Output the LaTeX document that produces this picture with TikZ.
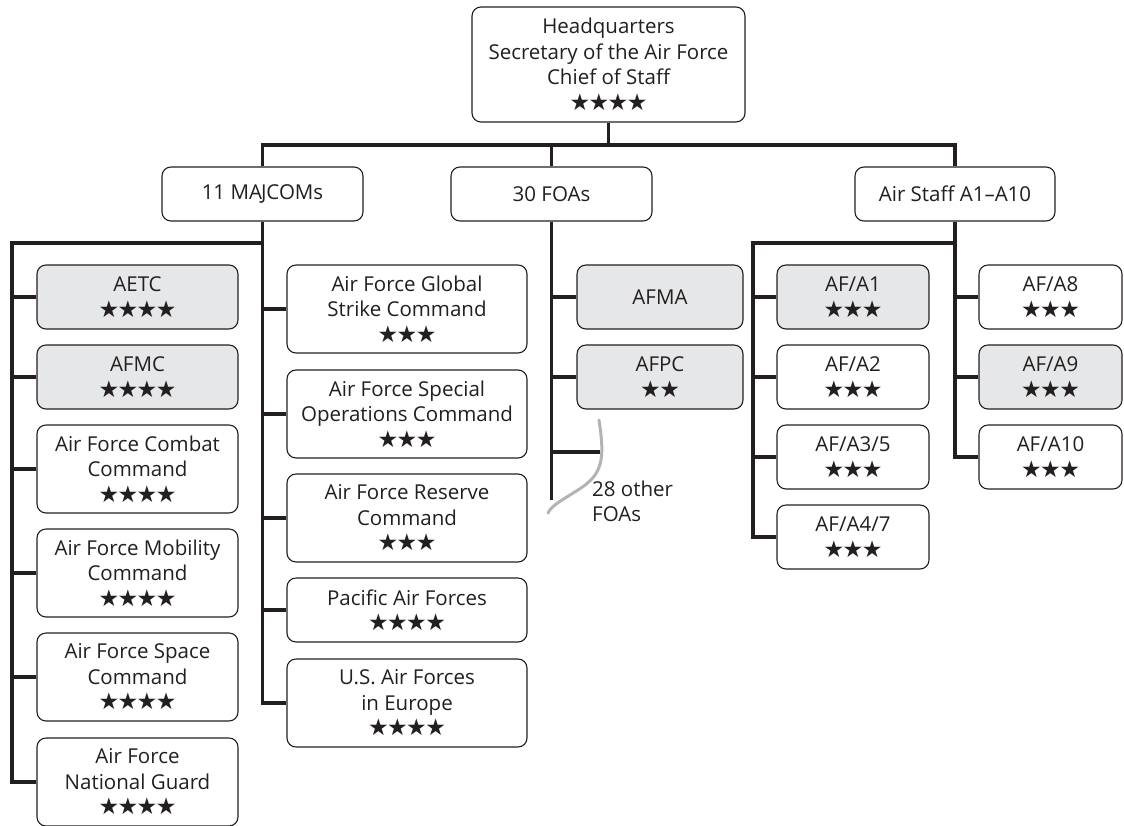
\documentclass[tikz,border=0pt]{standalone}
\usepackage{fontspec}
\setmainfont{Open Sans}
\newfontfamily\starfont{DejaVu Sans}
\newcommand{\st}{★}
\newcommand{\sII}{{\fontsize{23}{25.5}\starfont \st\kern-1.5pt\st}}
\newcommand{\sIII}{{\fontsize{23}{25.5}\starfont \st\kern-1.5pt\st\kern-1.5pt\st}}
\newcommand{\sIV}{{\fontsize{23}{25.5}\starfont \st\kern-1.5pt\st\kern-1.5pt\st\kern-1.5pt\st}}
\definecolor{linec}{HTML}{231F20}
\definecolor{boxgray}{HTML}{E6E7E8}
\definecolor{curvegray}{HTML}{B3B3B3}
\tikzset{
  box/.style={draw=linec, line width=1.1pt, rounded corners=9pt, fill=white, align=center,
    inner sep=0pt, font=\fontsize{20.5}{25.5}\selectfont, text=linec},
  gbox/.style={box, fill=boxgray},
  conn/.style={line width=3.5pt, draw=linec, line join=miter},
  graycurve/.style={line width=3pt, draw=curvegray, line cap=round},
  note/.style={align=left, inner sep=0pt, font=\fontsize{20.5}{25}\selectfont, text=linec}
}
\begin{document}
\begin{tikzpicture}[x=1pt, y=-1pt]
\useasboundingbox (0,0) rectangle (1124,825);
% top level
\node[box, minimum width=273pt, minimum height=115pt] (hq) at (608.5,64.5)
  {Headquarters\\Secretary of the Air Force\\Chief of Staff\\\sIV};
\node[box, minimum width=201pt, minimum height=54pt] (maj) at (262.5,194) {11 MA\kern-1pt JCOMs};
\node[box, minimum width=201pt, minimum height=54pt] (foa) at (551.5,194) {30 FOAs};
\node[box, minimum width=200pt, minimum height=54pt] (air) at (955,194) {Air Staff A1–A10};
% MAJCOM left column
\node[gbox, minimum width=201pt, minimum height=64pt] (aetc) at (137.5,297) {AETC\\\sIV};
\node[gbox, minimum width=201pt, minimum height=64pt] (afmc) at (137.5,377) {AFMC\\\sIV};
\node[box, minimum width=201pt, minimum height=88pt] (acc) at (137.5,469) {Air Force Combat\\Command\\\sIV};
\node[box, minimum width=201pt, minimum height=88pt] (amc) at (137.5,573) {Air Force Mobility\\Command\\\sIV};
\node[box, minimum width=201pt, minimum height=88pt] (afspc) at (137.5,677) {Air Force Space\\Command\\\sIV};
\node[box, minimum width=201pt, minimum height=88pt] (ang) at (137.5,782) {Air Force\\National Guard\\\sIV};
% MAJCOM right column
\node[box, minimum width=240pt, minimum height=88pt] (gsc) at (407,309) {Air Force Global\\Strike Command\\\sIII};
\node[box, minimum width=240pt, minimum height=88pt] (soc) at (407,414) {Air Force Special\\Operations Command\\\sIII};
\node[box, minimum width=240pt, minimum height=88pt] (res) at (407,518) {Air Force Reserve\\Command\\\sIII};
\node[box, minimum width=240pt, minimum height=64pt] (paf) at (407,610) {Pacific Air Forces\\\sIV};
\node[box, minimum width=240pt, minimum height=88pt] (usafe) at (407,703) {U.S. Air Forces\\in Europe\\\sIV};
% FOAs
\node[gbox, minimum width=166pt, minimum height=64pt] (afma) at (660,297) {AFMA};
\node[gbox, minimum width=166pt, minimum height=64pt] (afpc) at (660,377) {AFPC\\\sII};
\node[note, anchor=west] (other) at (592,501) {28 other\\FOAs};
% Air Staff left
\node[gbox, minimum width=152pt, minimum height=64pt] (a1) at (853,297) {AF/A1\\\sIII};
\node[box, minimum width=152pt, minimum height=64pt] (a2) at (853,377) {AF/A2\\\sIII};
\node[box, minimum width=152pt, minimum height=64pt] (a35) at (853,457) {AF/A3/5\\\sIII};
\node[box, minimum width=152pt, minimum height=64pt] (a47) at (853,537) {AF/A4/7\\\sIII};
% Air Staff right
\node[box, minimum width=143pt, minimum height=64pt] (a8) at (1050.5,297) {AF/A8\\\sIII};
\node[gbox, minimum width=143pt, minimum height=64pt] (a9) at (1050.5,377) {AF/A9\\\sIII};
\node[box, minimum width=143pt, minimum height=64pt] (a10) at (1050.5,457) {AF/A10\\\sIII};
% helper coordinates
\coordinate (bar) at (0,145);
\coordinate (lcol) at (12,243);
\coordinate (scol) at (753,243);
\coordinate (foaend) at (0,500);
\coordinate (ctop) at (599,420);
\coordinate (cstub) at (600,452);
\coordinate (cbot) at (548,513);
% connectors top
\draw[conn] (hq.south) -- (hq.south |- bar);
\draw[conn] (maj.north) -- (maj.north |- bar) -- (air.north |- bar) -- (air.north);
\draw[conn] (foa.north) -- (foa.north |- bar);
% MAJCOM tree
\draw[conn] (maj.south) -- (maj.south |- usafe.west) -- (usafe.west);
\draw[conn] (maj.south |- gsc.west) -- (gsc.west);
\draw[conn] (maj.south |- soc.west) -- (soc.west);
\draw[conn] (maj.south |- res.west) -- (res.west);
\draw[conn] (maj.south |- paf.west) -- (paf.west);
\draw[conn] (maj.south |- lcol) -- (lcol) -- (lcol |- ang.west) -- (ang.west);
\draw[conn] (lcol |- aetc.west) -- (aetc.west);
\draw[conn] (lcol |- afmc.west) -- (afmc.west);
\draw[conn] (lcol |- acc.west) -- (acc.west);
\draw[conn] (lcol |- amc.west) -- (amc.west);
\draw[conn] (lcol |- afspc.west) -- (afspc.west);
% FOA tree
\draw[conn] (foa.south) -- (foa.south |- foaend);
\draw[conn] (foa.south |- afma.west) -- (afma.west);
\draw[conn] (foa.south |- afpc.west) -- (afpc.west);
\draw[conn] (foa.south |- cstub) -- (cstub);
\draw[graycurve] (ctop) .. controls (605,460) and (603,474) .. (578,490) .. controls (562,500) and (551,506) .. (cbot);
% Air Staff tree
\draw[conn] (air.south) -- (air.south |- a10.west) -- (a10.west);
\draw[conn] (air.south |- a8.west) -- (a8.west);
\draw[conn] (air.south |- a9.west) -- (a9.west);
\draw[conn] (air.south |- scol) -- (scol) -- (scol |- a47.west) -- (a47.west);
\draw[conn] (scol |- a1.west) -- (a1.west);
\draw[conn] (scol |- a2.west) -- (a2.west);
\draw[conn] (scol |- a35.west) -- (a35.west);
\end{tikzpicture}
\end{document}
